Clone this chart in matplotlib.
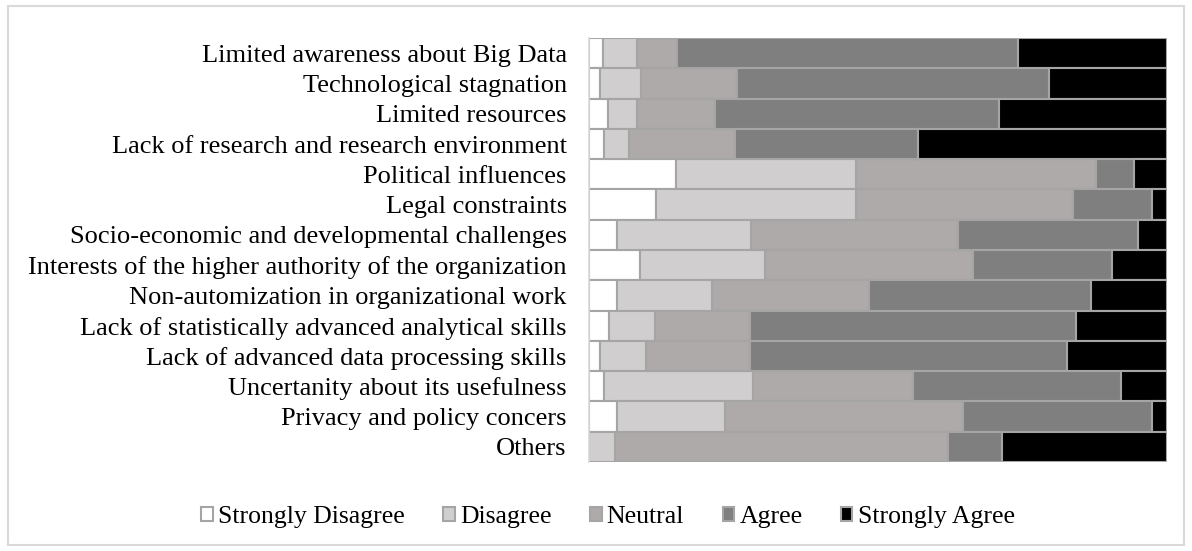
import numpy as np
import matplotlib
matplotlib.use("Agg")
import matplotlib.pyplot as plt
from matplotlib.patches import Rectangle

# categories, top to bottom
categories = [
    "Limited awareness about Big Data",
    "Technological stagnation",
    "Limited resources",
    "Lack of research and research environment",
    "Political influences",
    "Legal constraints",
    "Socio-economic and developmental challenges",
    "Interests of the higher authority of the organization",
    "Non-automization in organizational work",
    "Lack of statistically advanced analytical skills",
    "Lack of advanced data processing skills",
    "Uncertanity about its usefulness",
    "Privacy and policy concers",
    "Others",
]

levels = ["Strongly Disagree", "Disagree", "Neutral", "Agree", "Strongly Agree"]
colors = ["#ffffff", "#d0cece", "#aeaaaa", "#7f7f7f", "#000000"]

# percentages per level (same order as categories)
strongly_disagree = [2.4, 2.0, 3.3, 2.6, 15.0, 11.6, 4.9, 8.8, 4.9, 3.4, 2.0, 2.6, 4.9, 0.0]
disagree = [6.0, 7.1, 5.0, 4.4, 31.2, 34.6, 23.2, 21.6, 16.4, 8.0, 7.9, 25.8, 18.6, 4.6]
neutral = [6.8, 16.5, 13.5, 18.3, 41.6, 37.6, 35.8, 36.1, 27.2, 16.5, 18.0, 27.7, 41.2, 57.6]
agree = [59.1, 54.0, 49.2, 31.7, 6.5, 13.6, 31.1, 24.0, 38.4, 56.3, 54.8, 36.0, 32.7, 9.3]
strongly_agree = [25.7, 20.4, 29.0, 43.0, 5.7, 2.6, 5.0, 9.5, 13.1, 15.8, 17.3, 7.9, 2.6, 28.5]

series = [strongly_disagree, disagree, neutral, agree, strongly_agree]

plt.rcParams["font.family"] = ["Liberation Serif", "DejaVu Serif"]

fig = plt.figure(figsize=(11.92, 5.51), dpi=100)
ax = fig.add_axes([0.494, 0.1615, 0.485, 0.7695])

# chart border
fig.patches.append(Rectangle((0.007, 0.011), 0.986, 0.978, transform=fig.transFigure,
                             fill=False, edgecolor="#d9d9d9", linewidth=1.5))

y = np.arange(len(categories))[::-1]
tot = np.array([sum(s[i] for s in series) for i in range(len(categories))])
left = np.zeros(len(categories))
for vals, lab, col in zip(series, levels, colors):
    frac = np.array(vals) / tot
    ax.barh(y, frac, left=left, height=1.0, color=col, edgecolor="#a5a5a5",
            linewidth=1.5, label=lab)
    left += frac

ax.set_xlim(0, 1)
ax.set_ylim(-0.5, len(categories) - 0.5)
ax.set_yticks(y)
ax.set_yticklabels(categories, fontsize=19)
ax.set_xticks([])
ax.tick_params(axis="y", length=0, pad=16)
for s in ["top", "right", "bottom"]:
    ax.spines[s].set_visible(False)
ax.spines["left"].set_color("#d9d9d9")
ax.spines["left"].set_linewidth(1.2)

fig.legend(loc="center", bbox_to_anchor=(0.51, 0.062), ncol=5, frameon=False,
           fontsize=18.5, handlelength=0.45, handleheight=0.45, handletextpad=0.2,
           columnspacing=1.5)

fig.savefig("out.png", dpi=100)
